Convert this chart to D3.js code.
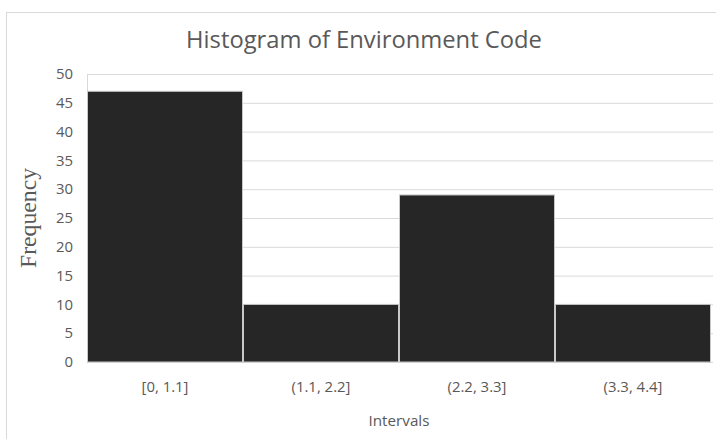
<!DOCTYPE html>
<html>
<head>
<meta charset="utf-8">
<script src="https://cdn.jsdelivr.net/npm/d3@7"></script>
<style>
  html, body { margin: 0; padding: 0; background: #fff; }
  svg { display: block; }
</style>
</head>
<body>
<svg id="chart" width="716" height="439"></svg>
<script>
const categories = ["[0, 1.1]", "(1.1, 2.2]", "(2.2, 3.3]", "(3.3, 4.4]"];
const frequencies = [47, 10, 29, 10];
const yTicks = [0, 5, 10, 15, 20, 25, 30, 35, 40, 45, 50];
const titleText = "Histogram of Environment Code";
const xTitle = "Intervals";
const yTitle = "Frequency";

const svg = d3.select("#chart");
const W = 716, H = 439;
const margin = { left: 87, right: 5, top: 74, bottom: 77 };
const SANS = "'Open Sans', sans-serif";
const SERIF = "'Liberation Serif', serif";

// measure helper: font size so that text renders at a target width
function fitSize(text, family, target) {
  const t = svg.append("text").style("font-family", family).style("font-size", "100px").text(text);
  const w = t.node().getComputedTextLength();
  t.remove();
  return 100 * target / w;
}
const tickSize = fitSize("[0, 1.1]", SANS, 47);
const titleSize = fitSize(titleText, SANS, 356);
const xTitleSize = fitSize(xTitle, SANS, 61);
const yTitleSize = fitSize(yTitle, SERIF, 100);

// chart area border
svg.append("rect")
  .attr("x", 6.5).attr("y", 12.5)
  .attr("width", W + 20).attr("height", H + 20)
  .attr("fill", "#fff").attr("stroke", "#d9d9d9").attr("stroke-width", 1);

const x = d3.scaleBand().domain(categories)
  .range([margin.left, W - margin.right]).paddingInner(0).paddingOuter(0);
const y = d3.scaleLinear().domain([0, 50]).range([H - margin.bottom, margin.top]);

// gridlines + y tick labels
const yAxis = d3.axisLeft(y).tickValues(yTicks)
  .tickSize(-(W - margin.right - margin.left + 2)).tickPadding(14);
const gy = svg.append("g").attr("transform", `translate(${margin.left},0)`).call(yAxis);
gy.select(".domain").attr("stroke", "#d9d9d9");
gy.selectAll(".tick line").attr("stroke", "#d9d9d9").attr("stroke-width", 1);
gy.selectAll(".tick text")
  .attr("fill", "#595959")
  .style("font-family", SANS)
  .style("font-size", tickSize + "px");

// bars
svg.append("g").selectAll("rect.bar")
  .data(categories.map((c, i) => ({ c, v: frequencies[i] })))
  .join("rect")
  .attr("class", "bar")
  .attr("x", d => x(d.c) + 0.5)
  .attr("width", x.bandwidth() - 1)
  .attr("y", d => y(d.v))
  .attr("height", d => y(0) - y(d.v))
  .attr("fill", "#262626")
  .attr("stroke", "#c8c8c8")
  .attr("stroke-width", 1);

// x axis labels
const xAxis = d3.axisBottom(x).tickSize(0);
const gx = svg.append("g").attr("transform", `translate(0,${y(0)})`).call(xAxis);
gx.select(".domain").remove();
gx.selectAll(".tick text")
  .attr("y", 30).attr("dy", 0)
  .attr("fill", "#595959")
  .style("font-family", SANS)
  .style("font-size", tickSize + "px");

// title
svg.append("text")
  .attr("x", 364).attr("y", 48)
  .attr("text-anchor", "middle")
  .attr("fill", "#595959")
  .style("font-family", SANS)
  .style("font-size", titleSize + "px")
  .text(titleText);

// x title
svg.append("text")
  .attr("x", 399).attr("y", 426)
  .attr("text-anchor", "middle")
  .attr("fill", "#595959")
  .style("font-family", SANS)
  .style("font-size", xTitleSize + "px")
  .text(xTitle);

// y title
svg.append("text")
  .attr("transform", "translate(36,218) rotate(-90)")
  .attr("text-anchor", "middle")
  .attr("fill", "#595959")
  .style("font-family", SERIF)
  .style("font-size", yTitleSize + "px")
  .text(yTitle);
</script>
</body>
</html>
